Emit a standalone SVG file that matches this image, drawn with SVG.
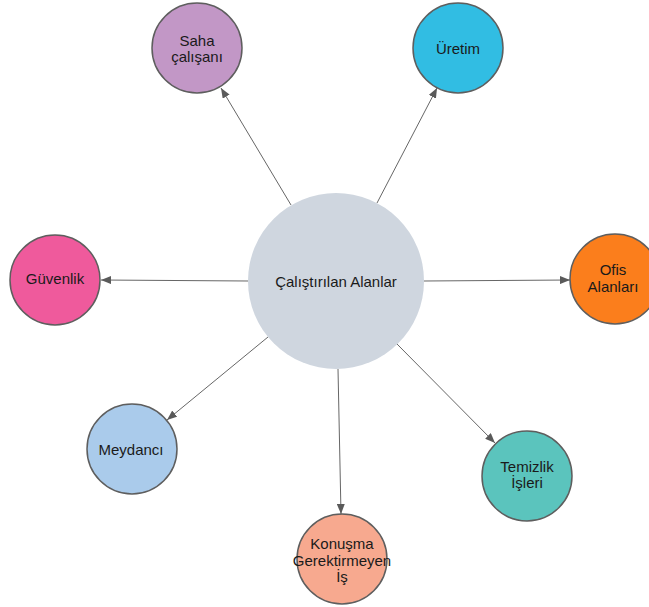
<svg xmlns="http://www.w3.org/2000/svg" width="649" height="607" viewBox="0 0 649 607">
  <defs>
    <marker id="arrow" viewBox="0 0 10 8" refX="10" refY="4" markerWidth="10" markerHeight="8" markerUnits="userSpaceOnUse" orient="auto">
      <path d="M0,0 L10,4 L0,8 Z" fill="#5a5a5a"/>
    </marker>
    <style>
      .node { stroke: #5e5e5e; stroke-width: 1.5; }
      .hub { fill: #cfd6df; stroke: none; }
      .label { font-family: "Liberation Sans", Arial, sans-serif; font-size: 15px; fill: #1a1a1a; text-anchor: middle; dominant-baseline: central; }
      .edge { stroke: #666666; stroke-width: 1; fill: none; marker-end: url(#arrow); }
    </style>
  </defs>
  <rect width="649" height="607" fill="#ffffff"/>

  <g id="connectors">
    <line class="edge" x1="291" y1="205" x2="221" y2="88"/>
    <line class="edge" x1="377" y1="203" x2="437" y2="88"/>
    <line class="edge" x1="248" y1="281" x2="101" y2="280"/>
    <line class="edge" x1="424" y1="281" x2="570" y2="280"/>
    <line class="edge" x1="268" y1="337" x2="167" y2="420"/>
    <line class="edge" x1="397" y1="344" x2="495" y2="443"/>
    <line class="edge" x1="338" y1="369" x2="341" y2="514"/>
  </g>

  <g id="calistirilan-alanlar">
    <circle class="hub" cx="336" cy="281" r="88"/>
    <text class="label" x="336" y="281">Çalıştırılan Alanlar</text>
  </g>

  <g id="saha-calisani">
    <circle class="node" cx="197" cy="48" r="45" fill="#c297c6"/>
    <text class="label" x="197" y="40">Saha</text>
    <text class="label" x="197" y="56">çalışanı</text>
  </g>

  <g id="uretim">
    <circle class="node" cx="458" cy="48" r="45" fill="#31bde3"/>
    <text class="label" x="458" y="48">Üretim</text>
  </g>

  <g id="guvenlik">
    <circle class="node" cx="55" cy="280" r="45" fill="#ef5a9c"/>
    <text class="label" x="55" y="278">Güvenlik</text>
  </g>

  <g id="ofis-alanlari">
    <circle class="node" cx="615" cy="279" r="45" fill="#fb7e1c"/>
    <text class="label" x="613" y="269">Ofis</text>
    <text class="label" x="613" y="286">Alanları</text>
  </g>

  <g id="meydanci">
    <circle class="node" cx="132" cy="449" r="45" fill="#aacbeb"/>
    <text class="label" x="131" y="449">Meydancı</text>
  </g>

  <g id="temizlik-isleri">
    <circle class="node" cx="527" cy="476" r="45" fill="#5bc4bd"/>
    <text class="label" x="527" y="466">Temizlik</text>
    <text class="label" x="527" y="482">İşleri</text>
  </g>

  <g id="konusma-gerektirmeyen-is">
    <circle class="node" cx="342" cy="559" r="45" fill="#f7a98f"/>
    <text class="label" x="342" y="543">Konuşma</text>
    <text class="label" x="342" y="560">Gerektirmeyen</text>
    <text class="label" x="342" y="576">İş</text>
  </g>
</svg>
